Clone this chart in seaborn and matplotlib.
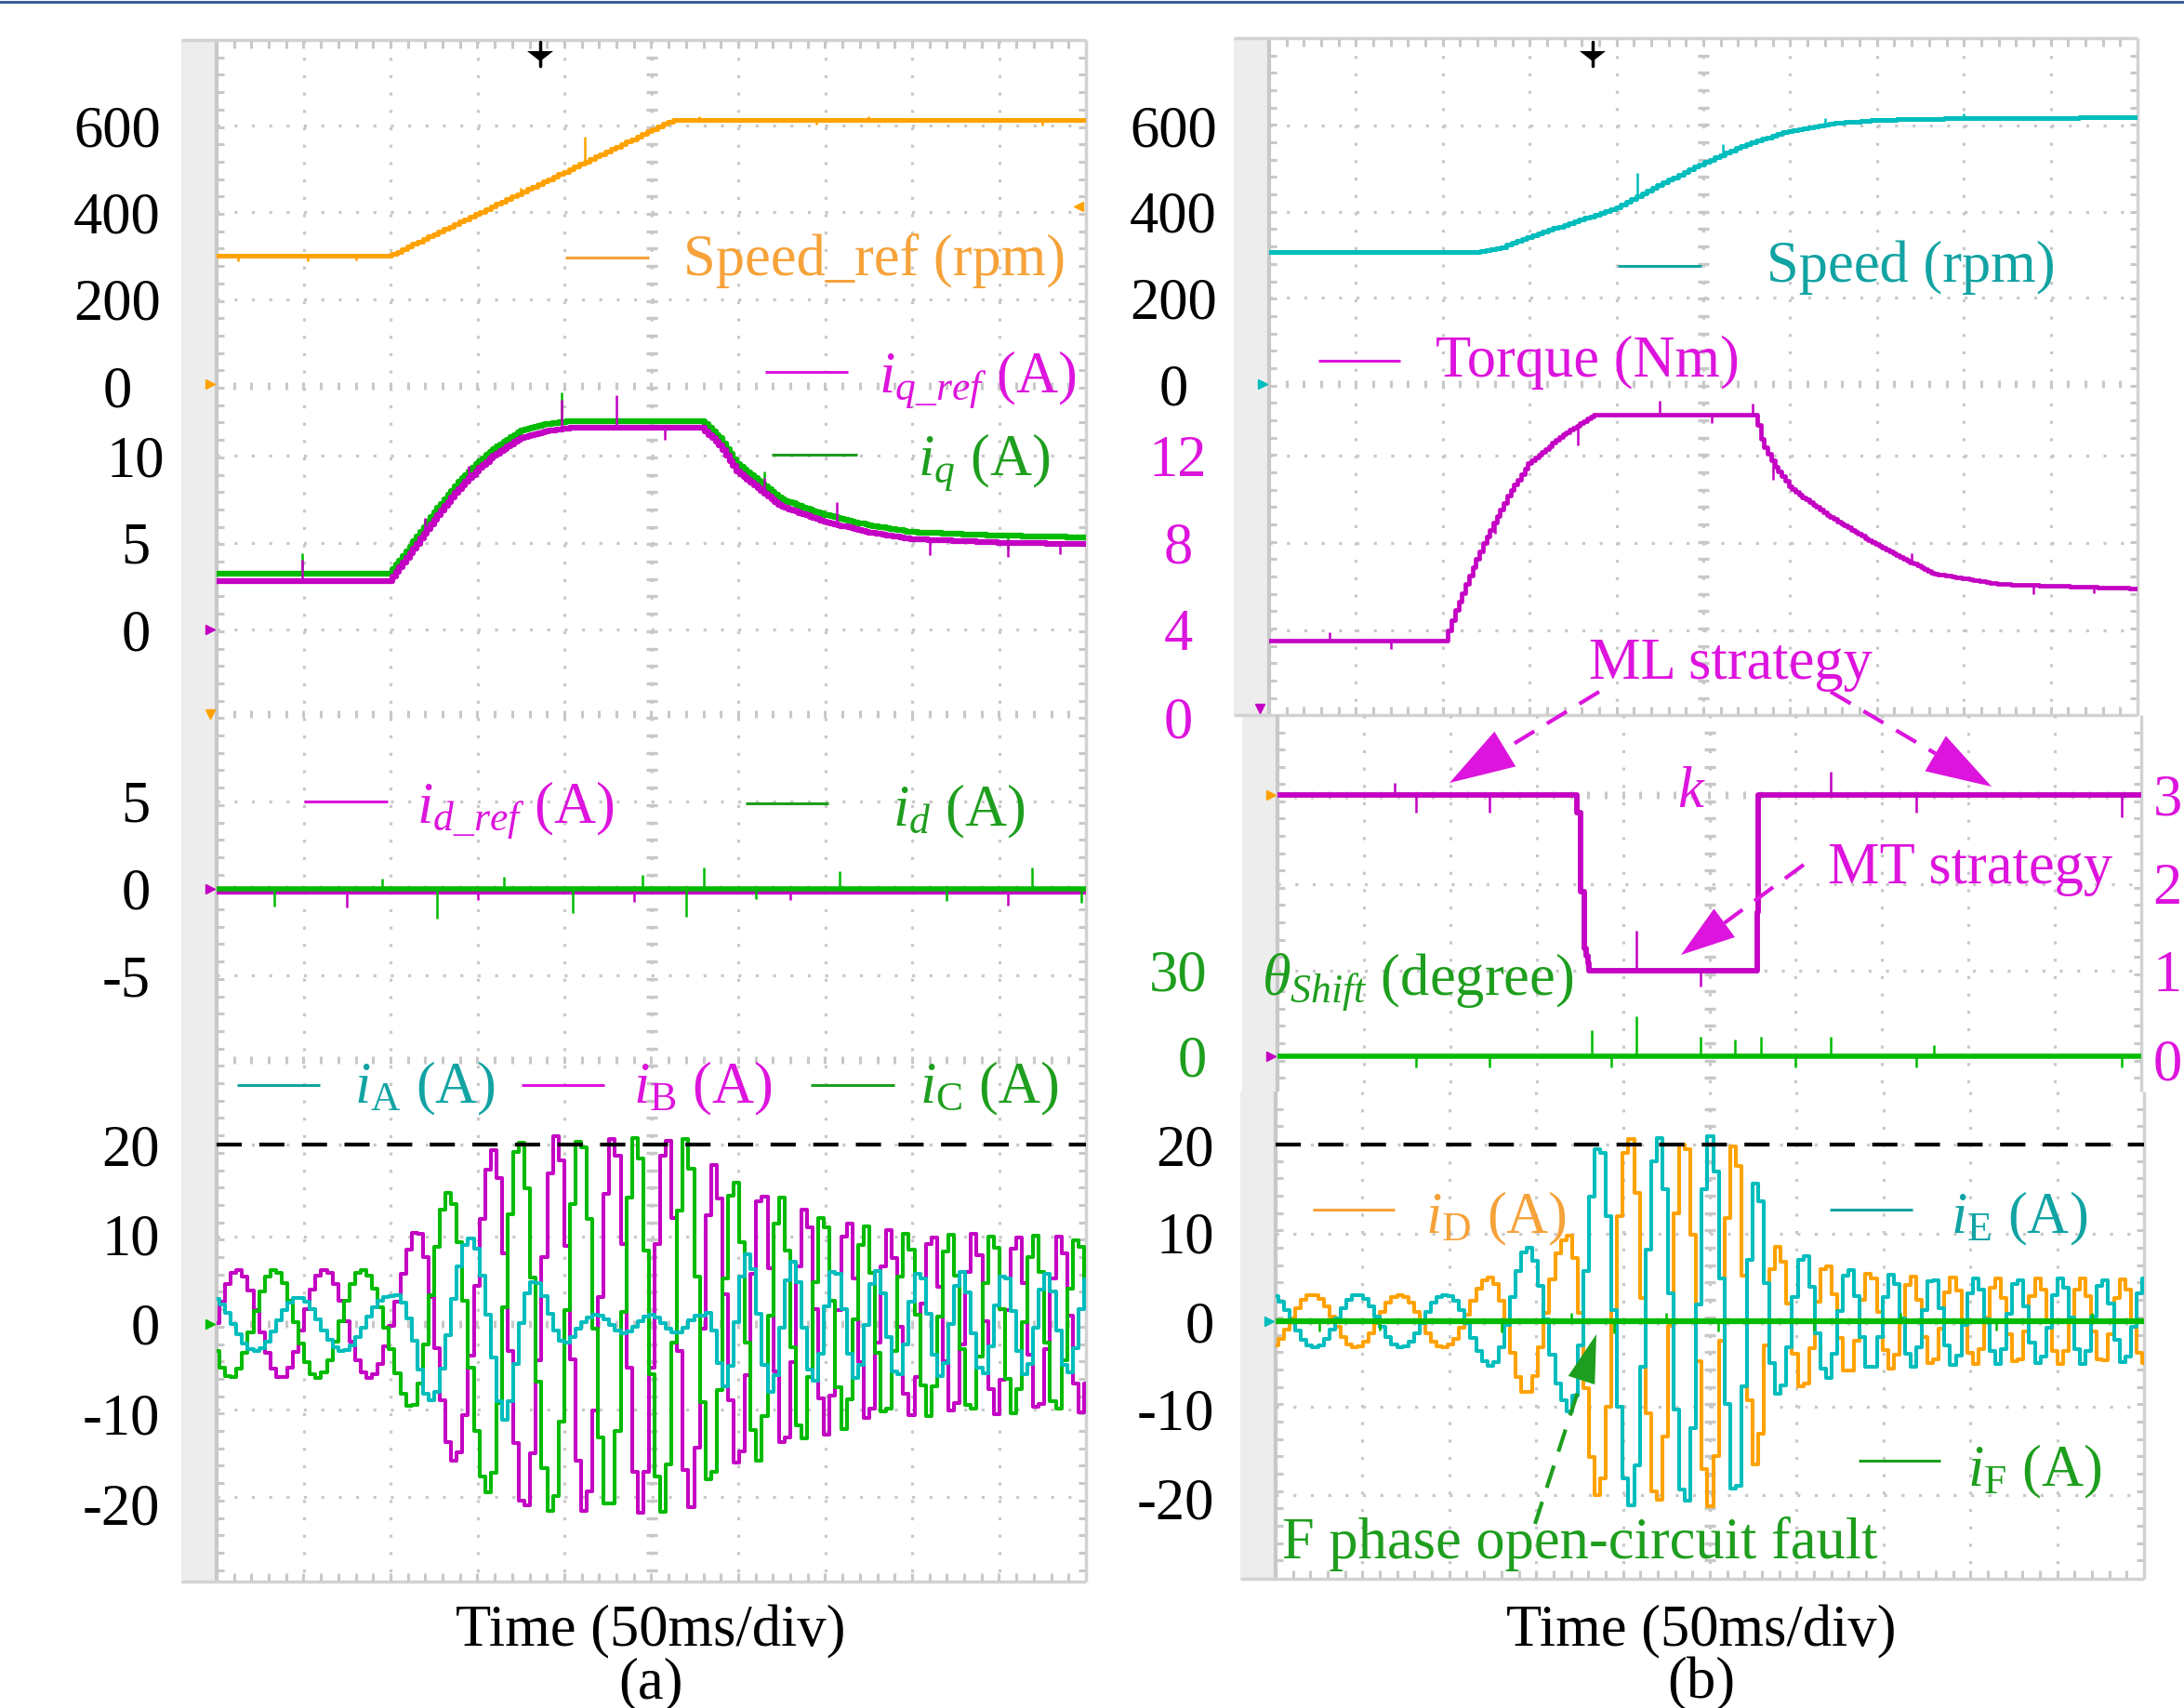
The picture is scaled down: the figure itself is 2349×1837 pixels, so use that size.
import matplotlib
matplotlib.use("Agg")
import matplotlib.pyplot as plt
import numpy as np
import seaborn as sns
from matplotlib.patches import Polygon, Rectangle
from matplotlib.transforms import blended_transform_factory

W, H, DPI = 2349, 1837, 100
FS = 45

# time of every trace is in scope divisions (50 ms/div, 10 div on screen)

# ---------------- (a) ----------------
speed_ref_t = [0.0, 2.0, 5.25, 10.0]
speed_ref_rpm = [300, 300, 612, 612]
speed_ref_spk_t = [0.25, 1.05, 1.6, 3.5, 4.24, 5.55, 6.9, 7.5, 9.5]
speed_ref_spk = [-12, -12, -10, 12, 60, 10, -10, 10, -12]

iq_t = [0.0, 2.0, 2.2, 2.5, 2.8, 3.0, 3.2, 3.5, 3.8, 4.1, 5.6, 5.8, 6.0, 6.5, 7.0, 7.5, 8.0, 9.0, 10.0]
iq_ref_a = [2.8, 2.8, 4.1, 6.2, 8.1, 9.1, 10.0, 11.0, 11.4, 11.6, 11.6, 10.6, 9.1, 7.1, 6.2, 5.6, 5.2, 5.0, 4.9]
iq_a = [3.2, 3.2, 4.5, 6.6, 8.5, 9.5, 10.4, 11.4, 11.8, 12.0, 12.0, 11.0, 9.5, 7.5, 6.6, 6.0, 5.6, 5.4, 5.3]
iq_spk_t = [0.98, 2.4, 2.9, 3.97, 4.6, 5.15, 6.3, 7.13, 8.2, 9.1, 9.7]
iq_spk = [1.2, 0.9, 0.8, 1.7, 1.9, -0.7, 0.8, 1.3, -0.9, -0.8, -0.6]

id_t = [0.0, 10.0]
id_ref_a = [-0.15, -0.15]
id_a = [0.0, 0.0]
id_spk_t = [0.66, 1.9, 2.54, 3.3, 4.1, 4.9, 5.4, 5.6, 6.2, 7.17, 8.4, 9.38, 9.95]
id_spk = [-1.0, 0.6, -1.7, 0.7, -1.4, 0.8, -1.6, 1.2, -0.6, 1.0, -0.7, 1.2, -0.8]
id_ref_spk_t = [1.5, 3.0, 4.8, 6.6, 9.1]
id_ref_spk = [-0.9, -0.5, -0.6, -0.5, -0.8]

# phase currents (a): positive peak times of iB, lag of the others in cycles, amplitude envelopes
peaks_ib_a = [-0.754, 0.246, 1.245, 2.28, 3.18, 3.91, 4.57, 5.18, 5.73, 6.28, 6.78,
              7.26, 7.74, 8.23, 8.72, 9.21, 9.70, 10.19]
lag_ic_a = 0.42
lag_ia_a = 0.70
env_bc_t = [0.0, 2.0, 2.3, 2.7, 3.2, 3.6, 5.4, 5.75, 6.0, 6.3, 6.8, 7.3, 7.8, 10.0]
env_bc_a = [6.0, 6.0, 10.5, 15.0, 19.5, 21.0, 21.0, 17.5, 16.0, 15.0, 13.0, 11.5, 10.3, 9.8]
env_ia_t = [0.0, 2.0, 2.4, 2.9, 3.3, 3.65, 3.9, 4.2, 5.6, 5.85, 6.2, 6.8, 7.5, 10.0]
env_ia_a = [3.0, 3.0, 8.4, 9.5, 11.0, 5.0, 3.0, 1.0, 1.0, 7.0, 8.0, 6.5, 6.0, 5.5]

# ---------------- (b) ----------------
speed_t = [0.0, 2.4, 2.7, 3.0, 3.5, 4.0, 4.5, 5.0, 5.5, 6.0, 6.5, 7.0, 8.0, 10.0]
speed_rpm = [306, 306, 318, 342, 375, 408, 462, 512, 556, 588, 605, 613, 617, 619]
speed_spk_t = [4.24, 5.23, 6.4, 8.0]
speed_spk = [55, 25, 15, 12]

torque_t = [0.0, 2.04, 2.15, 2.31, 2.47, 2.78, 3.01, 3.41, 3.76, 5.61, 5.69, 5.84, 6.02,
            6.47, 7.01, 7.65, 8.43, 10.0]
torque_nm = [3.5, 3.5, 4.8, 6.4, 7.9, 10.3, 11.7, 13.0, 13.9, 13.9, 12.6, 11.5, 10.5,
             9.2, 7.9, 6.6, 6.1, 5.9]
torque_spk_t = [0.7, 1.4, 2.6, 3.55, 4.5, 5.1, 5.57, 5.8, 7.4, 8.8, 9.5]
torque_spk = [0.4, -0.4, -0.5, -0.9, 0.6, -0.4, 0.5, -0.9, 0.4, -0.4, -0.3]

k_t = [0.0, 3.47, 3.47, 3.51, 3.51, 3.55, 3.55, 3.62, 5.55, 5.58, 10.0]
k_val = [3.0, 3.0, 2.8, 2.8, 1.9, 1.9, 1.3, 1.0, 1.0, 3.0, 3.0]
k_spk_t = [1.36, 1.6, 2.45, 4.16, 4.9, 6.4, 7.4, 9.77]
k_spk = [0.14, -0.2, -0.2, 0.46, -0.18, 0.26, -0.2, -0.25]

theta_t = [0.0, 10.0]
theta_deg = [0.0, 0.0]
theta_spk_t = [1.6, 2.45, 3.64, 3.86, 4.16, 4.9, 5.3, 5.6, 6.0, 6.4, 7.4, 7.6, 9.77]
theta_spk = [-4, -4, 9, -4, 14, 7, 6, 7, -4, 7, -4, 4, -4]

peaks_id_b = [-0.57, 0.43, 1.43, 2.43, 3.33, 4.08, 4.71, 5.29, 5.80, 6.35, 6.85, 7.33,
              7.80, 8.31, 8.78, 9.29, 9.76, 10.24]
lag_ie_b = 0.52
env_de_t = [0.0, 2.0, 2.43, 2.9, 3.33, 3.6, 3.75, 5.1, 5.3, 5.55, 5.8, 6.1, 6.35, 6.85, 7.4, 8.0, 10.0]
env_de_a = [3.0, 3.0, 4.8, 8.4, 9.2, 17.0, 20.8, 21.0, 20.5, 16.3, 8.1, 7.7, 6.5, 5.6, 5.1, 4.9, 4.8]
if_t = [0.0, 10.0]
if_b = [0.0, 0.0]
if_spk_t = [0.5, 1.2, 2.6, 3.4, 3.9, 4.5, 5.1, 6.2, 7.2, 8.3, 9.4]
if_spk = [-1.2, -1.0, -1.3, 1.0, -1.4, 1.0, -1.2, -1.0, 1.0, -1.1, 0.9]

# ---------------- style ----------------
ORANGE, ORANGE_TXT = "#FFA200", "#F6A23A"
MAGENTA, MAGENTA_TXT = "#C300C3", "#DD14DD"
GREEN, GREEN_TXT = "#00BB00", "#1E9E1E"
CYAN, CYAN_TXT = "#00BDBD", "#12A3A3"
GRID = "#C8C8C8"
STRIP = "#EDEDED"

sns.set_theme(style="white")
plt.rcParams["font.family"] = ["Liberation Serif", "DejaVu Serif"]
plt.rcParams["mathtext.fontset"] = "custom"
plt.rcParams["mathtext.rm"] = "Liberation Serif"
plt.rcParams["mathtext.it"] = "Liberation Serif:italic"
plt.rcParams["mathtext.bf"] = "Liberation Serif:bold"

fig = plt.figure(figsize=(W / DPI, H / DPI), dpi=DPI)
fig.patch.set_facecolor("white")


def pixel_axes(zorder):
    ax = fig.add_axes([0, 0, 1, 1])
    ax.set_xlim(0, W)
    ax.set_ylim(H, 0)
    ax.set_axis_off()
    ax.set_zorder(zorder)
    return ax


bg = pixel_axes(0)
fg = pixel_axes(5)

# screens in pixels: x0, x1, y0, y1
SCR_A = (233, 1168, 43, 1701)
SCR_B1 = (1365, 2299, 41, 769)
SCR_B2 = (1374, 2303, 769, 1174)
SCR_B3 = (1372, 2306, 1174, 1698)


def draw_screen(scr, rows, centre_rows, top=True, bottom=True):
    x0, x1, y0, y1 = scr
    bg.add_patch(Rectangle((x0 - 38, y0), 38, y1 - y0, color=STRIP, lw=0))
    dx = (x1 - x0) / 10
    minor = dx / 5
    dots = dict(color=GRID, lw=2.3, ls=(0, (1, 4.85)), dash_capstyle="butt")
    for k in range(1, 10):
        bg.plot([x0 + k * dx] * 2, [y0, y1], **dots)
    for y in rows:
        bg.plot([x0, x1], [y, y], **dots)
    ys = np.arange(y0 + minor, y1 - 2, minor)
    xs = np.arange(x0 + minor, x1 - 2, minor)
    bg.plot(np.full_like(ys, x0 + 5 * dx), ys, ls="none", marker="_", ms=8, mew=2.4, color=GRID)
    for y in centre_rows:
        bg.plot(xs, np.full_like(xs, y), ls="none", marker="|", ms=6, mew=2.2, color=GRID)
    bg.plot(np.full_like(ys, x0 + 4), ys, ls="none", marker="_", ms=6, mew=2.2, color=GRID)
    bg.plot(np.full_like(ys, x1 - 4), ys, ls="none", marker="_", ms=6, mew=2.2, color=GRID)
    bg.plot([x0, x0], [y0, y1], color=GRID, lw=3, solid_capstyle="butt")
    bg.plot([x1, x1], [y0, y1], color="#D2D2D2", lw=2.5, solid_capstyle="butt")
    if top:
        bg.plot([x0 - 38, x1], [y0, y0], color="#D2D2D2", lw=2.5, solid_capstyle="butt")
        bg.plot(xs, np.full_like(xs, y0 + 5), ls="none", marker="|", ms=6, mew=2.2, color=GRID)
    if bottom:
        bg.plot([x0 - 38, x1], [y1, y1], color="#D2D2D2", lw=2.5, solid_capstyle="butt")
        bg.plot(xs, np.full_like(xs, y1 - 5), ls="none", marker="|", ms=6, mew=2.2, color=GRID)


draw_screen(SCR_A, [135, 228, 322, 490, 584, 677, 862, 1049, 1231, 1330, 1516, 1610],
            [415, 768, 956, 1140, 1424])
draw_screen(SCR_B1, [135, 228, 320, 490, 584, 678], [413])
draw_screen(SCR_B2, [951, 1044, 1136], [855], top=False, bottom=False)
draw_screen(SCR_B3, [1231, 1327, 1513, 1608], [1421], top=False)


def overlay(scr, zero_px, ppu):
    x0, x1, y0, y1 = scr
    ax = fig.add_axes([x0 / W, 1 - y1 / H, (x1 - x0) / W, (y1 - y0) / H])
    ax.set_xlim(0, 10)
    ax.set_ylim((zero_px - y1) / ppu, (zero_px - y0) / ppu)
    ax.set_axis_off()
    ax.patch.set_visible(False)
    ax.set_zorder(1)
    return ax


def trace(ax, t_pts, v_pts, color, lw, step=0.02, spk_t=(), spk_v=()):
    t = np.arange(0, 10 + step / 2, step)
    v = np.interp(t, t_pts, v_pts)
    sns.lineplot(x=t, y=v, ax=ax, color=color, linewidth=lw, estimator=None,
                 sort=False, drawstyle="steps-mid")
    if len(spk_t):
        base = np.interp(spk_t, t_pts, v_pts)
        ax.vlines(spk_t, base, base + np.asarray(spk_v), color=color, lw=1.8)


def wave(ax, peak_t, lag, env_t, env_a, color, lw=2.9, step=0.065):
    t = np.arange(0, 10 + step, step)
    cyc = np.interp(t, peak_t, np.arange(len(peak_t)))
    v = np.interp(t, env_t, env_a) * np.cos(2 * np.pi * (cyc - lag))
    sns.lineplot(x=t, y=v, ax=ax, color=color, linewidth=lw, estimator=None,
                 sort=False, drawstyle="steps-mid")


def tick_labels(ax, values, x_px, color="black", ha="center"):
    tr = blended_transform_factory(fg.transData, ax.transData)
    for v in values:
        ax.text(x_px, v, f"{v:g}", transform=tr, ha=ha, va="center_baseline",
                color=color, fontsize=FS, clip_on=False)


# ---- panel (a) ----
ax_spd_a = overlay(SCR_A, 415, (415 - 135) / 600)
trace(ax_spd_a, speed_ref_t, speed_ref_rpm, ORANGE, 3.6, 0.06, speed_ref_spk_t, speed_ref_spk)
tick_labels(ax_spd_a, [600, 400, 200, 0], 126)

ax_iq_a = overlay(SCR_A, 677, (677 - 490) / 10)
trace(ax_iq_a, iq_t, iq_a, GREEN, 4.5, 0.04, iq_spk_t[::3], iq_spk[::3])
trace(ax_iq_a, iq_t, iq_ref_a, MAGENTA, 4.5, 0.04, iq_spk_t, iq_spk)
tick_labels(ax_iq_a, [10, 5, 0], 146)

ax_id_a = overlay(SCR_A, 956, (956 - 862) / 5)
trace(ax_id_a, id_t, id_ref_a, MAGENTA, 4.5, 0.02, id_ref_spk_t, id_ref_spk)
trace(ax_id_a, id_t, id_a, GREEN, 4.0, 0.02, id_spk_t, id_spk)
tick_labels(ax_id_a, [5, 0, -5], 162, ha="right")

ax_ph_a = overlay(SCR_A, 1424, (1424 - 1231) / 20)
wave(ax_ph_a, peaks_ib_a, 0.0, env_bc_t, env_bc_a, MAGENTA)
wave(ax_ph_a, peaks_ib_a, lag_ic_a, env_bc_t, env_bc_a, GREEN)
wave(ax_ph_a, peaks_ib_a, lag_ia_a, env_ia_t, env_ia_a, CYAN)
ax_ph_a.axhline(20, color="black", lw=3, ls=(0, (6.5, 4.5)), dash_capstyle="butt")
tick_labels(ax_ph_a, [20, 10, 0, -10, -20], 172, ha="right")

# ---- panel (b) ----
ax_spd_b = overlay(SCR_B1, 413, (413 - 135) / 600)
trace(ax_spd_b, speed_t, speed_rpm, CYAN, 3.6, 0.06, speed_spk_t, speed_spk)
tick_labels(ax_spd_b, [600, 400, 200, 0], 1262)

ax_tq_b = overlay(SCR_B1, 771, (771 - 490) / 12)
trace(ax_tq_b, torque_t, torque_nm, MAGENTA, 3.4, 0.04, torque_spk_t, torque_spk)
tick_labels(ax_tq_b, [12, 8, 4, 0], 1267, color=MAGENTA_TXT)

ax_k_b = overlay(SCR_B2, 1139, 94.7)
trace(ax_k_b, k_t, k_val, MAGENTA, 4.2, 0.02, k_spk_t, k_spk)
tick_labels(ax_k_b, [3, 2, 1, 0], 2347, color=MAGENTA_TXT, ha="right")

ax_th_b = overlay(SCR_B2, 1136, (1136 - 1044) / 30)
trace(ax_th_b, theta_t, theta_deg, GREEN, 4.0, 0.02, theta_spk_t, theta_spk)
tick_labels(ax_th_b, [30, 0], 1298, color=GREEN_TXT, ha="right")

ax_ph_b = overlay(SCR_B3, 1421, (1421 - 1231) / 20)
wave(ax_ph_b, peaks_id_b, 0.0, env_de_t, env_de_a, ORANGE)
wave(ax_ph_b, peaks_id_b, lag_ie_b, env_de_t, env_de_a, CYAN)
trace(ax_ph_b, if_t, if_b, GREEN, 4.5, 0.02, if_spk_t, if_spk)
ax_ph_b.axhline(20, color="black", lw=3, ls=(0, (6.5, 4.5)), dash_capstyle="butt")
tick_labels(ax_ph_b, [20, 10, 0, -10, -20], 1306, ha="right")


# ---- legends, captions, annotations (pixel coordinates) ----
def legend_item(lx0, lx1, ly, tx, tbase, label, color):
    fg.plot([lx0, lx1], [ly, ly], color=color, lw=2.2, solid_capstyle="butt")
    fg.text(tx, tbase, label, color=color, fontsize=FS, ha="left", va="baseline")


legend_item(608, 698, 277, 735, 296, "Speed_ref (rpm)", ORANGE_TXT)
legend_item(823, 912, 400, 945, 421, r"$i_{q\_ref}$ (A)", MAGENTA_TXT)
legend_item(830, 922, 489, 987, 510, r"$i_q$ (A)", GREEN_TXT)
legend_item(327, 417, 862, 448, 884, r"$i_{d\_ref}$ (A)", MAGENTA_TXT)
legend_item(802, 891, 864, 960, 888, r"$i_d$ (A)", GREEN_TXT)
legend_item(255, 344, 1167, 381, 1186, r"$i_{\mathrm{A}}$ (A)", CYAN_TXT)
legend_item(561, 650, 1167, 681, 1186, r"$i_{\mathrm{B}}$ (A)", MAGENTA_TXT)
legend_item(872, 962, 1167, 989, 1186, r"$i_{\mathrm{C}}$ (A)", GREEN_TXT)

legend_item(1740, 1830, 286, 1900, 303, "Speed (rpm)", CYAN_TXT)
legend_item(1418, 1506, 388, 1544, 405, "Torque (Nm)", MAGENTA_TXT)
legend_item(1412, 1500, 1301, 1533, 1326, r"$i_{\mathrm{D}}$ (A)", ORANGE_TXT)
legend_item(1968, 2057, 1301, 2098, 1326, r"$i_{\mathrm{E}}$ (A)", CYAN_TXT)
legend_item(1999, 2087, 1571, 2116, 1598, r"$i_{\mathrm{F}}$ (A)", GREEN_TXT)

for cx, tag in [(700, "(a)"), (1830, "(b)")]:
    fg.text(cx, 1770, "Time (50ms/div)", fontsize=FS, ha="center", va="baseline", color="black")
    fg.text(cx, 1826, tag, fontsize=FS, ha="center", va="baseline", color="black")

fg.text(1861, 730, "ML strategy", fontsize=FS, ha="center", va="baseline", color=MAGENTA_TXT)
fg.text(1819, 868, r"$k$", fontsize=FS, ha="center", va="baseline", color=MAGENTA_TXT)
fg.text(1966, 950, "MT strategy", fontsize=FS, ha="left", va="baseline", color=MAGENTA_TXT)
fg.text(1357, 1069, r"$\theta_{Shift}$ (degree)", fontsize=FS, ha="left", va="baseline", color=GREEN_TXT)
fg.text(1379, 1676, "F phase open-circuit fault", fontsize=FS, ha="left", va="baseline", color=GREEN_TXT)


def dashed_arrow(xa, ya, xb, yb, color, head_len=62, head_w=40):
    d = np.hypot(xb - xa, yb - ya)
    ux, uy = (xb - xa) / d, (yb - ya) / d
    bx, by = xb - ux * head_len, yb - uy * head_len
    fg.plot([xa, bx], [ya, by], color=color, lw=3, ls=(0, (6, 3.8)), dash_capstyle="butt")
    px, py = -uy * head_w / 2, ux * head_w / 2
    fg.add_patch(Polygon([(xb, yb), (bx + px, by + py), (bx - px, by - py)], closed=True,
                         color=color, lw=0))


dashed_arrow(1720, 744, 1559, 842, MAGENTA_TXT, 70, 44)
dashed_arrow(1969, 744, 2142, 846, MAGENTA_TXT, 70, 44)
dashed_arrow(1940, 930, 1808, 1027, MAGENTA_TXT, 58, 38)
dashed_arrow(1651, 1639, 1717, 1435, GREEN_TXT, 52, 30)

# trigger markers on top of the screens
for tx in (581, 1713):
    fg.plot([tx, tx], [45, 71], color="black", lw=2.5)
    fg.add_patch(Polygon([(tx - 14, 55), (tx + 14, 55), (tx, 66)], closed=True, color="black", lw=0))

# channel ground markers
for (mx, my, mk, mc) in [(226, 413, ">", ORANGE), (226, 677, ">", MAGENTA), (226, 768, "v", ORANGE),
                         (226, 956, ">", MAGENTA), (226, 1424, ">", GREEN), (1358, 413, ">", CYAN),
                         (1355, 762, "v", MAGENTA), (1367, 855, ">", ORANGE),
                         (1367, 1136, ">", MAGENTA), (1365, 1421, ">", CYAN),
                         (1160, 222, "<", ORANGE)]:
    fg.plot([mx], [my], marker=mk, ms=7, color=mc, ls="none")

# window edge at the very top
fg.plot([0, W], [1.5, 1.5], color="#3D5C96", lw=2.2)

fig.savefig("out.png", dpi=DPI)
